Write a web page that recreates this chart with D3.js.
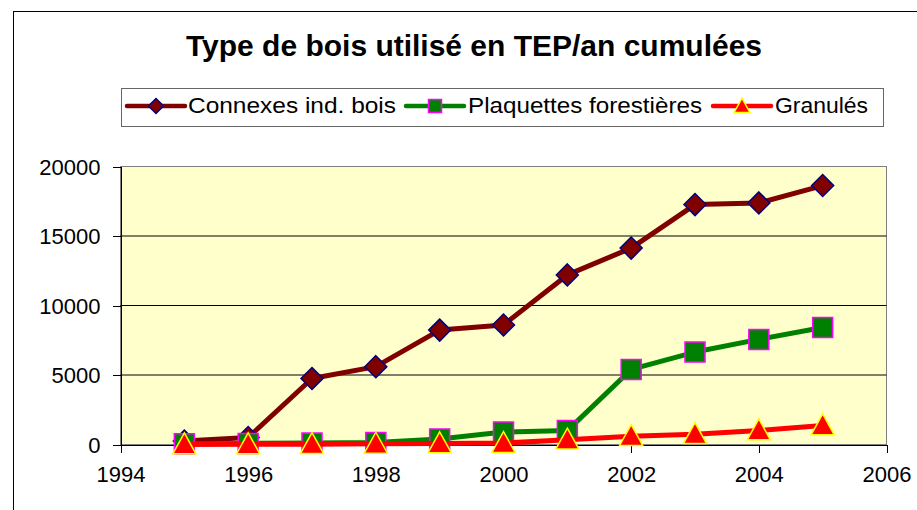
<!DOCTYPE html>
<meta charset="utf-8">
<body style="margin:0;background:#fff">
<style>
text { font-family: "Liberation Sans", Arial, sans-serif; fill: #000; }
.grid line { stroke: #000; stroke-width: 1px; }
.axis path, .axis line { stroke: #000; shape-rendering: crispEdges; }
.axis text { font-size: 22px; }
</style>
<script src="https://d3js.org/d3.v7.min.js"></script>
<script>

var years = [1995, 1996, 1997, 1998, 1999, 2000, 2001, 2002, 2003, 2004, 2005];
var connexes = [250, 500, 4750, 5600, 8230, 8600, 12200, 14130, 17260, 17380, 18630];
var plaquettes = [50, 80, 100, 150, 400, 900, 1000, 5400, 6650, 7560, 8420];
var granules = [0, 10, 20, 50, 80, 100, 340, 600, 740, 1010, 1370];
var seriesNames = ["Connexes ind. bois", "Plaquettes forestières", "Granulés"];
var xTicks = [1994, 1996, 1998, 2000, 2002, 2004, 2006];
var yTicks = [0, 5000, 10000, 15000, 20000];

var svg = d3.select("body").append("svg")
    .attr("width", 917)
    .attr("height", 510);

// outer chart frame (right and bottom edges run off the picture)
svg.append("rect")
    .attr("x", 13.5).attr("y", 11.5)
    .attr("width", 1000).attr("height", 1000)
    .attr("fill", "#fff").attr("stroke", "#000");

svg.append("text")
    .attr("x", 186).attr("y", 55.5)
    .attr("textLength", 576).attr("lengthAdjust", "spacingAndGlyphs")
    .style("font-size", "29px").style("font-weight", "bold")
    .text("Type de bois utilisé en TEP/an cumulées");

var x = d3.scaleLinear().domain([1994, 2006]).range([120.5, 886.5]);
var y = d3.scaleLinear().domain([0, 20000]).range([444.5, 166.5]);

// plot area
svg.append("rect")
    .attr("x", x(1994)).attr("y", y(20000))
    .attr("width", x(2006) - x(1994)).attr("height", y(0) - y(20000))
    .attr("fill", "#ffffcc").attr("stroke", "#808080");

svg.append("g").attr("class", "grid")
  .selectAll("line")
    .data(yTicks.slice(1, 4))
  .enter().append("line")
    .attr("x1", x(1994)).attr("x2", x(2006))
    .attr("y1", function(d) { return y(d); })
    .attr("y2", function(d) { return y(d); });

var yAxis = svg.append("g").attr("class", "axis")
    .attr("transform", "translate(" + x(1994) + ",0)")
    .call(d3.axisLeft(y).tickValues(yTicks).tickSize(8).tickPadding(12).tickSizeOuter(0).tickFormat(d3.format("d")));
yAxis.selectAll("text").attr("dy", "0.36em");

var xAxis = svg.append("g").attr("class", "axis")
    .attr("transform", "translate(0," + y(0) + ")")
    .call(d3.axisBottom(x).tickValues(xTicks).tickSize(8).tickPadding(14).tickSizeOuter(0).tickFormat(d3.format("d")));

svg.selectAll(".axis").selectAll("text").style("font-family", "Liberation Sans, Arial, sans-serif");

var series = [
  { name: seriesNames[0], values: connexes, line: "#800000", fill: "#800000", edge: "#000080", shape: "diamond" },
  { name: seriesNames[1], values: plaquettes, line: "#008000", fill: "#008000", edge: "#ff00ff", shape: "square" },
  { name: seriesNames[2], values: granules, line: "#ff0000", fill: "#ff0000", edge: "#ffff00", shape: "triangle" }
];

function markerPath(shape, s) {
  if (shape === "diamond") return "M0," + (-s) + "L" + s + ",0L0," + s + "L" + (-s) + ",0Z";
  if (shape === "square") return "M" + (-s) + "," + (-s) + "h" + (2 * s) + "v" + (2 * s) + "h" + (-2 * s) + "Z";
  return "M0," + (-s * 1.05) + "L" + (s * 1.05) + "," + (s * 0.85) + "L" + (-s * 1.05) + "," + (s * 0.85) + "Z";
}

var line = d3.line()
    .x(function(d, i) { return x(years[i]); })
    .y(function(d) { return y(d); });

series.forEach(function(s) {
  svg.append("path")
      .datum(s.values)
      .attr("d", line)
      .attr("fill", "none")
      .attr("stroke", s.line)
      .attr("stroke-width", 5)
      .attr("stroke-linejoin", "round");

  svg.selectAll(".m-" + s.shape)
      .data(s.values)
    .enter().append("path")
      .attr("class", "m-" + s.shape)
      .attr("transform", function(d, i) { return "translate(" + x(years[i]) + "," + y(d) + ")"; })
      .attr("d", markerPath(s.shape, s.shape === "square" ? 10 : 11))
      .attr("fill", s.fill)
      .attr("stroke", s.edge)
      .attr("stroke-width", 1.5);
});

// legend
var legend = svg.append("g");
legend.append("rect")
    .attr("x", 121.5).attr("y", 88.5)
    .attr("width", 762).attr("height", 38)
    .attr("fill", "#fff").attr("stroke", "#666");

var legendX = [127, 406, 713];
var legendText = [[188, 208], [468, 234], [775, 93]];
series.forEach(function(s, i) {
  var g = legend.append("g");
  g.append("line")
      .attr("x1", legendX[i]).attr("x2", legendX[i] + 58)
      .attr("y1", 106).attr("y2", 106)
      .attr("stroke", s.line).attr("stroke-width", 4.5)
      .attr("stroke-linecap", "round");
  g.append("path")
      .attr("transform", "translate(" + (legendX[i] + 29) + ",106)")
      .attr("d", markerPath(s.shape, s.shape === "square" ? 6.5 : 7.5))
      .attr("fill", s.fill).attr("stroke", s.edge).attr("stroke-width", 1.5);
  g.append("text")
      .attr("x", legendText[i][0]).attr("y", 112.5)
      .attr("textLength", legendText[i][1]).attr("lengthAdjust", "spacingAndGlyphs")
      .style("font-size", "22px")
      .text(s.name);
});

</script>
</body>
</html>
